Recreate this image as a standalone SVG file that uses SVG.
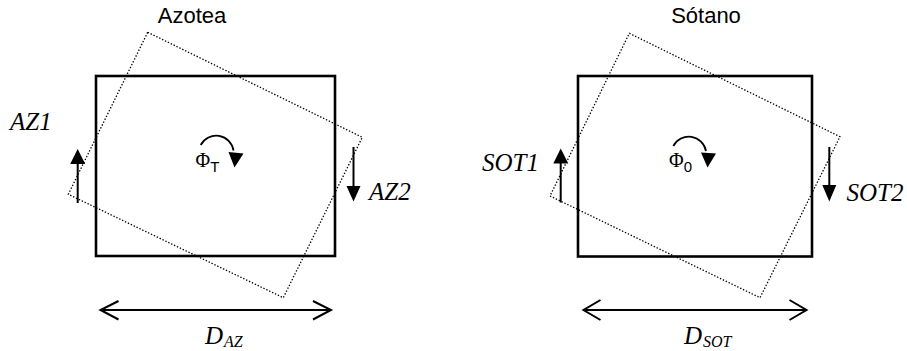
<svg xmlns="http://www.w3.org/2000/svg" width="907" height="351" viewBox="0 0 907 351">
<style>
.bg{fill:#fff}
.frame{fill:none;stroke:#000;stroke-width:2.6}
.rot{fill:none;stroke:#000;stroke-width:1.3;stroke-dasharray:1.4,1.8}
.ln{fill:none;stroke:#000;stroke-width:2}
.thin{fill:none;stroke:#000;stroke-width:1.8}
.head{fill:#000;stroke:none}
.title{font-family:"Liberation Sans",Arial,sans-serif;font-size:22px;fill:#000;text-anchor:middle}
.lab{font-family:"Liberation Serif","Times New Roman",serif;font-style:italic;font-size:25px;fill:#000}
.sub{font-size:16px}
.phi{font-family:"Liberation Serif","Times New Roman",serif;font-size:20px;fill:#000}
.phisub{font-family:"Liberation Sans",Arial,sans-serif;font-size:15px}
</style>
<rect class="bg" x="0" y="0" width="907" height="351"/>

<g id="azotea">
  <text class="title" x="192" y="22.5">Azotea</text>
  <rect class="frame" x="96" y="76" width="239" height="180"/>
  <polygon class="rot" points="147.7,32.3 362.3,137.3 283.3,297.7 68.3,194.3"/>
  <text class="phi" x="195.5" y="167">Φ<tspan class="phisub" dy="4.5">T</tspan></text>
  <text class="lab" x="10" y="130">AZ1</text>
  <text class="lab" x="369" y="200">AZ2</text>
  <text class="lab" x="205" y="343.5">D<tspan class="sub" dx="1" dy="3">AZ</tspan></text>
</g>

<g id="sotano">
  <text class="title" x="706" y="22.5">Sótano</text>
  <rect class="frame" x="578" y="76" width="234" height="180.5"/>
  <polygon class="rot" points="629.3,33.3 840,136.7 760,297.7 550,196"/>
  <text class="phi" x="669" y="166.5">Φ<tspan class="phisub" dy="5">0</tspan></text>
  <text class="lab" x="482" y="170.5">SOT1</text>
  <text class="lab" x="846.5" y="201">SOT2</text>
  <text class="lab" x="684" y="344">D<tspan class="sub" dx="1" dy="2.5">SOT</tspan></text>
</g>

<g id="connectors">
  <!-- Azotea -->
  <line class="ln" x1="77.7" y1="203" x2="77.7" y2="162"/>
  <polygon class="head" points="70.2,164 85.2,164 77.7,149"/>
  <line class="ln" x1="353.5" y1="147" x2="353.5" y2="188"/>
  <polygon class="head" points="346.5,186 360.5,186 353.5,201.5"/>
  <path class="thin" d="M200.7,145 A17.5,17.5 0 0 1 233.5,150.5"/>
  <polygon class="head" points="228.5,152 243.5,153.5 234.5,167.5"/>
  <line class="ln" x1="101" y1="310" x2="330" y2="310"/>
  <polyline class="ln" points="118.5,301 100.5,310 118.5,319.5"/>
  <polyline class="ln" points="313,301 331,310 313,319.5"/>
  <!-- Sotano -->
  <line class="ln" x1="560.7" y1="202.5" x2="560.7" y2="162"/>
  <polygon class="head" points="553.3,163.5 568.3,163.5 560.7,148.5"/>
  <line class="ln" x1="829.3" y1="147" x2="829.3" y2="187"/>
  <polygon class="head" points="822.3,185 836.3,185 829.3,201.5"/>
  <path class="thin" d="M673.3,146 A17.5,17.5 0 0 1 706,151"/>
  <polygon class="head" points="701,152.5 716,153.5 707.5,167.5"/>
  <line class="ln" x1="584" y1="310" x2="806" y2="310"/>
  <polyline class="ln" points="600.5,300 583.5,310 600.5,320"/>
  <polyline class="ln" points="789.5,300 806.5,310 789.5,320"/>
</g>
</svg>
